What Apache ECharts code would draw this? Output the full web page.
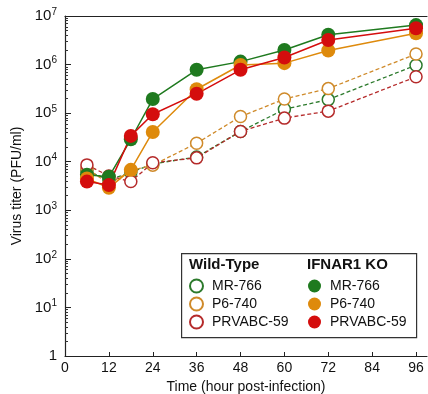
<!DOCTYPE html>
<html>
<head>
<meta charset="utf-8">
<script src="https://cdn.jsdelivr.net/npm/echarts@6/dist/echarts.min.js"></script>
<style>
  html, body { margin: 0; padding: 0; background: #fff; }
  #chart { width: 428px; height: 394px; }
</style>
</head>
<body>
<div id="chart"></div>
<script>
// hours post-infection
const hours = [6, 12, 18, 24, 36, 48, 60, 72, 96];
const xTicks = [0, 12, 24, 36, 48, 60, 72, 84, 96];

// Wild-Type (open circles, dashed)
const wtMR766   = [6500, 4200, 6000, 9000, 12500, 42000, 120000, 190000, 970000];
const wtP6740   = [7200, 3500, 6500, 8500, 24000, 85000, 195000, 320000, 1650000];
const wtPRVABC  = [8600, 5100, 3900, 9500, 12000, 42000, 79000, 110000, 560000];

// IFNAR1 KO (filled circles, solid)
const koMR766   = [5400, 4900, 29000, 195000, 780000, 1150000, 2000000, 4100000, 6500000];
const koP6740   = [4500, 2900, 6800, 41000, 310000, 980000, 1070000, 1950000, 4400000];
const koPRVABC  = [3900, 3300, 34000, 95000, 250000, 780000, 1400000, 3200000, 5600000];

const GREEN = '#1f7a1f', ORANGE = '#de8a0c', RED = '#d40d0d';
const GREEN_D = '#2c7a2c', ORANGE_D = '#cf8a2a', RED_D = '#b52a2a';

const FONT = '"Liberation Sans", Arial, sans-serif';

function pairs(vals) { return hours.map((h, i) => [h, vals[i]]); }

// minor ticks 2..9 in every decade
const minorTicks = [];
for (let e = 0; e < 7; e++) for (let m = 2; m <= 9; m++) minorTicks.push(m * Math.pow(10, e));

function wt(name, vals, c) {
  return {
    name: 'WT ' + name, type: 'line', data: pairs(vals),
    symbol: 'circle', symbolSize: 12, z: 2,
    lineStyle: { color: c, width: 1.3, type: [4, 2.5] },
    itemStyle: { color: '#fff', borderColor: c, borderWidth: 1.5 }
  };
}
function ko(name, vals, c) {
  return {
    name: 'KO ' + name, type: 'line', data: pairs(vals),
    symbol: 'circle', symbolSize: 14, z: 3,
    lineStyle: { color: c, width: 1.5 },
    itemStyle: { color: c, borderWidth: 0 }
  };
}

const chart = echarts.init(document.getElementById('chart'), null, { renderer: 'canvas' });

const legendCommon = {
  orient: 'vertical', icon: 'circle', itemWidth: 13, itemHeight: 13,
  selectedMode: false,
  textStyle: { fontFamily: FONT, fontSize: 14, color: '#111', padding: [0, 0, 0, 4], lineHeight: 16 },
  formatter: n => n.replace(/^(WT|KO) /, '')
};

chart.setOption({
  animation: false,
  textStyle: { fontFamily: FONT },
  grid: { left: 65, right: 1, top: 16, bottom: 38, outerBoundsMode: 'none' },
  xAxis: [{
    type: 'value', min: 0, max: 99,
    axisLine: { lineStyle: { color: '#222', width: 1.2 } },
    axisTick: { inside: true, length: 4, lineStyle: { color: '#222' }, customValues: xTicks },
    axisLabel: { fontSize: 14, color: '#111', margin: 5, customValues: xTicks },
    splitLine: { show: false },
    name: 'Time (hour post-infection)', nameLocation: 'middle', nameGap: 21,
    nameTextStyle: { fontSize: 14, color: '#111' }
  }, {
    type: 'value', min: 0, max: 99, position: 'top',
    axisLine: { show: true, lineStyle: { color: '#222', width: 1.2 } },
    axisTick: { show: false }, axisLabel: { show: false }, splitLine: { show: false }
  }],
  yAxis: [{
    type: 'log', logBase: 10, min: 1, max: 1e7,
    axisLine: { show: true, lineStyle: { color: '#222', width: 1.2 } },
    axisTick: { inside: true, length: 6, lineStyle: { color: '#222' } },
    splitLine: { show: false },
    axisLabel: {
      color: '#111', fontSize: 15, margin: 8,
      formatter: v => {
        const e = Math.round(Math.log10(v));
        return e === 0 ? '1' : '10{s|' + e + '}';
      },
      rich: { s: { fontSize: 10, verticalAlign: 'top', padding: [0, 0, 8, 0], color: '#111' } }
    },
    name: 'Virus titer (PFU/ml)', nameLocation: 'middle', nameGap: 40,
    nameTextStyle: { fontSize: 14, color: '#111' }
  }, {
    type: 'log', logBase: 10, min: 1, max: 1e7, position: 'left',
    axisLine: { show: false },
    axisTick: { show: true, inside: true, length: 3, lineStyle: { color: '#333' }, customValues: minorTicks },
    axisLabel: { show: false }, splitLine: { show: false }
  }],
  legend: [
    Object.assign({ left: 184, top: 273, itemGap: 2,
      data: ['WT MR-766', 'WT P6-740', 'WT PRVABC-59'] }, legendCommon),
    Object.assign({ left: 303, top: 273, itemGap: 2,
      data: ['KO MR-766', 'KO P6-740', 'KO PRVABC-59'] }, legendCommon)
  ],
  graphic: [
    { type: 'rect', left: 181, top: 253, shape: { width: 235, height: 84 },
      style: { fill: '#fff', stroke: '#333', lineWidth: 1.2 }, z: 0 },
    { type: 'text', left: 189, top: 257,
      style: { text: 'Wild-Type', font: 'bold 15px ' + FONT, fill: '#111' } },
    { type: 'text', left: 307, top: 257,
      style: { text: 'IFNAR1 KO', font: 'bold 15px ' + FONT, fill: '#111' } }
  ],
  series: [
    wt('MR-766', wtMR766, GREEN_D),
    wt('P6-740', wtP6740, ORANGE_D),
    wt('PRVABC-59', wtPRVABC, RED_D),
    ko('MR-766', koMR766, GREEN),
    ko('P6-740', koP6740, ORANGE),
    ko('PRVABC-59', koPRVABC, RED)
  ]
});
</script>
</body>
</html>
